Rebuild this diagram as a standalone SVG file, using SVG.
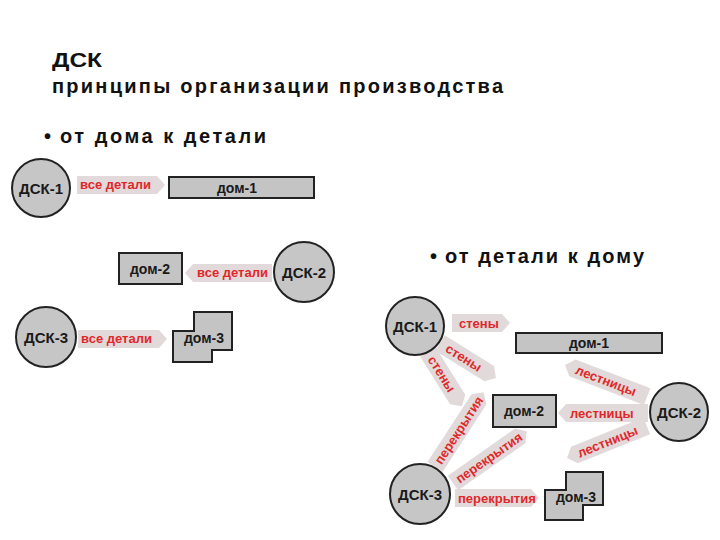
<svg xmlns="http://www.w3.org/2000/svg" width="720" height="540" viewBox="0 0 720 540">
<style>
.title{font-family:"Liberation Sans",Arial,sans-serif;font-weight:bold;font-size:20px;fill:#111}
.node circle{fill:#c6c6c6;stroke:#222;stroke-width:2}
.node rect,.node path{fill:#c4c4c4;stroke:#222;stroke-width:2}
.node text{font-family:"Liberation Sans",Arial,sans-serif;font-weight:bold;font-size:15px;fill:#1a1a1a;text-anchor:middle}
.node text.h{font-size:14px}
.arr path{fill:#e2dada}
.arr text{font-family:"Liberation Sans",Arial,sans-serif;font-weight:bold;font-size:13px;fill:#e0282a}
</style>
<rect width="720" height="540" fill="#fff"/>
<text class="title" x="52" y="67" textLength="50" lengthAdjust="spacingAndGlyphs">ДСК</text>
<text class="title" x="52" y="93" textLength="451" lengthAdjust="spacing">принципы организации производства</text>
<text class="title" x="44" y="143">•</text>
<text class="title" x="60" y="143" textLength="206" lengthAdjust="spacing">от дома к детали</text>
<text class="title" x="430" y="263">•</text>
<text class="title" x="445" y="263" textLength="199" lengthAdjust="spacing">от детали к дому</text>

<g id="connectors">
<g class="arr" transform="translate(77,185)"><path d="M0,-9H80L88,0L80,9H0Z"/><text x="3" y="4">все детали</text></g>
<g class="arr" transform="translate(185,273)"><path d="M0,0L8,-9H87V9H8Z"/><text x="12" y="4">все детали</text></g>
<g class="arr" transform="translate(78,339)"><path d="M0,-9H81L89,0L81,9H0Z"/><text x="3" y="4">все детали</text></g>

<g class="arr" transform="translate(452,323)"><path d="M0,-9H50L58,0L50,9H0Z"/><text x="7" y="4.5">стены</text></g>
<g class="arr" transform="translate(440,343) rotate(32)"><path d="M0,-9H58L66,0L58,9H0Z"/><text x="8" y="4.5">стены</text></g>
<g class="arr" transform="translate(428,352) rotate(58)"><path d="M0,-9H56L64,0L56,9H0Z"/><text x="6" y="4.5">стены</text></g>
<g class="arr" transform="translate(565,365) rotate(21)"><path d="M0,0L8,-9H88V9H8Z"/><text x="12" y="4.5">лестницы</text></g>
<g class="arr" transform="translate(558,413)"><path d="M0,0L8,-9H90V9H8Z"/><text x="12" y="4.5">лестницы</text></g>
<g class="arr" transform="translate(567,458) rotate(-22)"><path d="M0,0L8,-9H86V9H8Z"/><text x="12" y="4.5">лестницы</text></g>
<g class="arr" transform="translate(455,498)"><path d="M0,-9H76L84,0L76,9H0Z"/><text x="3" y="4.5">перекрытия</text></g>
<g class="arr" transform="translate(435,467) rotate(-57)"><path d="M0,-9H81L89,0L81,9H0Z"/><text x="5" y="4.5">перекрытия</text></g>
<g class="arr" transform="translate(453,483) rotate(-35)"><path d="M0,-9H82L90,0L82,9H0Z"/><text x="5" y="4.5">перекрытия</text></g>
</g>

<g id="l-dsk1" class="node"><circle cx="41" cy="188" r="29"/><text x="41" y="194">ДСК-1</text></g>
<g id="l-dom1" class="node"><rect x="169" y="177" width="145" height="21"/><text class="h" x="237" y="193">дом-1</text></g>
<g id="l-dom2" class="node"><rect x="119" y="253" width="63" height="31"/><text class="h" x="150" y="274">дом-2</text></g>
<g id="l-dsk2" class="node"><circle cx="304" cy="272" r="30"/><text x="304" y="278">ДСК-2</text></g>
<g id="l-dsk3" class="node"><circle cx="46" cy="337" r="30"/><text x="46" y="343">ДСК-3</text></g>
<g id="l-dom3" class="node"><path d="M173,331H194V312H232V350H212V362H173Z"/><text class="h" x="204" y="343">дом-3</text></g>

<g id="r-dsk1" class="node"><circle cx="415" cy="326" r="29"/><text x="415" y="332">ДСК-1</text></g>
<g id="r-dom1" class="node"><rect x="516" y="333" width="146" height="20"/><text class="h" x="589" y="348">дом-1</text></g>
<g id="r-dom2" class="node"><rect x="493" y="395" width="63" height="32"/><text class="h" x="524" y="416">дом-2</text></g>
<g id="r-dsk2" class="node"><circle cx="679" cy="412" r="29"/><text x="679" y="418">ДСК-2</text></g>
<g id="r-dsk3" class="node"><circle cx="420" cy="494" r="30"/><text x="420" y="500">ДСК-3</text></g>
<g id="r-dom3" class="node"><path d="M545,490H566V472H603V505H583V520H545Z"/><text class="h" x="576" y="502">дом-3</text></g>
</svg>
